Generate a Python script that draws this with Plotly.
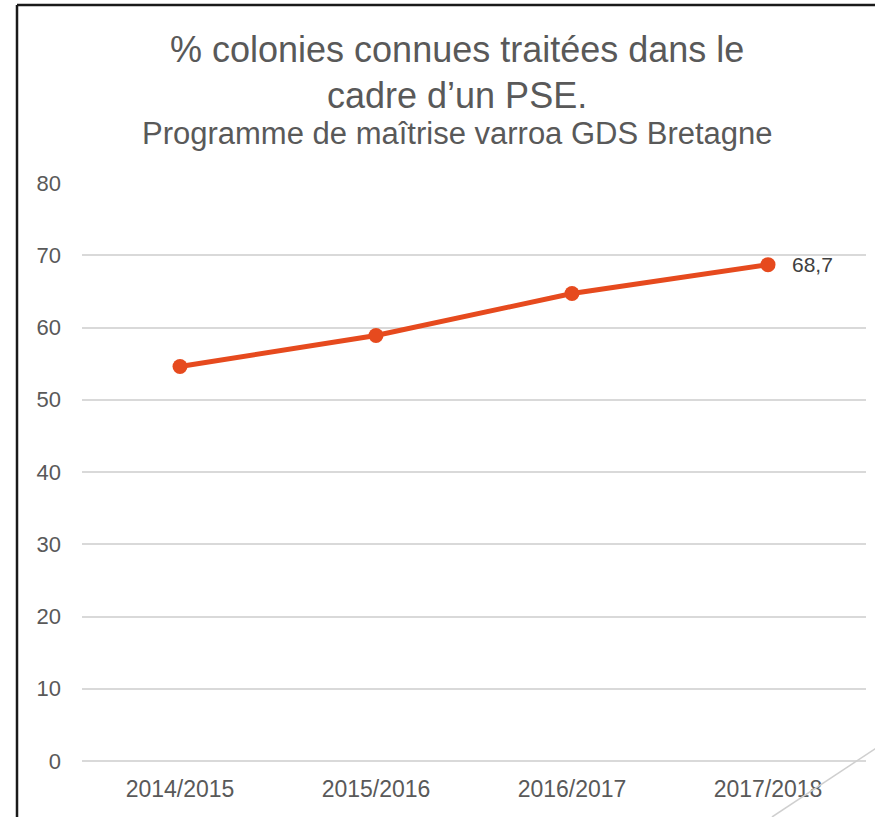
import plotly.graph_objects as go

# ---- data ----
seasons = ["2014/2015", "2015/2016", "2016/2017", "2017/2018"]
pct_treated = [54.6, 58.9, 64.7, 68.7]
y_ticks = [0, 10, 20, 30, 40, 50, 60, 70, 80]
title_line1 = "% colonies connues traitées dans le"
title_line2 = "cadre d\u2019un PSE."
subtitle = "Programme de maîtrise varroa GDS Bretagne"

FONT = "Liberation Sans, Arial, sans-serif"
W, H = 875, 817
ML, MR, MT, MB = 82, 9, 183, 56
PW = W - ML - MR
PH = H - MT - MB


def px(x):
    return (x - ML) / PW


def py(y):
    return (H - MB - y) / PH


label_last = f"{pct_treated[-1]:.1f}".replace(".", ",")

fig = go.Figure()
fig.add_trace(go.Scatter(
    x=seasons, y=pct_treated,
    mode="lines+markers",
    line=dict(color="#E64A1E", width=5),
    marker=dict(color="#E64A1E", size=15),
    cliponaxis=False, showlegend=False, hoverinfo="x+y",
))

shapes = [
    # outer frame (left and top)
    dict(type="line", xref="paper", yref="paper", x0=px(17), x1=px(17), y0=py(5), y1=py(830),
         line=dict(color="#1a1a1a", width=2.5)),
    dict(type="line", xref="paper", yref="paper", x0=px(17), x1=px(900), y0=py(5), y1=py(5),
         line=dict(color="#1a1a1a", width=2.5)),
    # diagonal decoration
    dict(type="line", xref="paper", yref="paper", x0=px(905), y0=py(729), x1=px(772), y1=py(817),
         line=dict(color="#CFCFCF", width=1.5)),
]

annotations = [
    dict(text=title_line1, x=px(457), y=py(50), xref="paper", yref="paper", showarrow=False,
         xanchor="center", yanchor="middle", font=dict(family=FONT, size=36, color="#595959")),
    dict(text=title_line2, x=px(457), y=py(95), xref="paper", yref="paper", showarrow=False,
         xanchor="center", yanchor="middle", font=dict(family=FONT, size=36, color="#595959")),
    dict(text=subtitle, x=px(457), y=py(133), xref="paper", yref="paper", showarrow=False,
         xanchor="center", yanchor="middle", font=dict(family=FONT, size=31, color="#595959")),
    dict(text=label_last, x=seasons[-1], y=pct_treated[-1], xref="x", yref="y", showarrow=False,
         xanchor="left", yanchor="middle", xshift=22,
         font=dict(family=FONT, size=21, color="#404040")),
]

fig.update_layout(
    width=W, height=H,
    margin=dict(l=ML, r=MR, t=MT, b=MB, pad=0),
    paper_bgcolor="white", plot_bgcolor="white",
    font=dict(family=FONT, color="#595959"),
    shapes=shapes, annotations=annotations,
    xaxis=dict(type="category", range=[-0.5, 3.5], showgrid=False, zeroline=False,
               showline=False, ticks="", tickfont=dict(size=23, color="#595959"),
               ticklabelstandoff=12),
    yaxis=dict(range=[0, 80], tickvals=y_ticks, showgrid=True, gridcolor="#D9D9D9",
               gridwidth=1.5, zeroline=True, zerolinecolor="#D9D9D9", zerolinewidth=1.5,
               showline=False, ticks="", tickfont=dict(size=22, color="#595959"),
               ticklabelstandoff=20),
)

fig.write_html(
    "out.html",
    config={"displayModeBar": False},
    post_script="document.body.style.margin='0';document.body.style.padding='0';",
)
